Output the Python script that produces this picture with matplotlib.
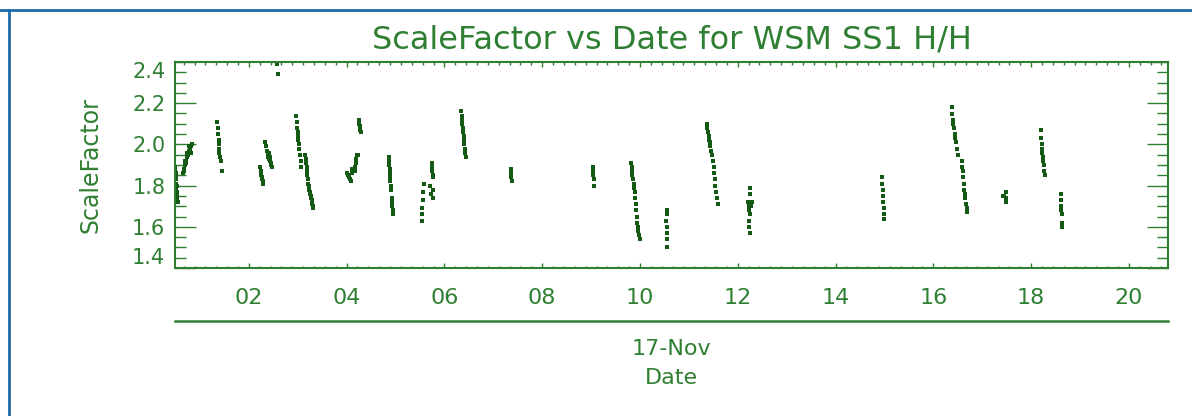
import matplotlib.pyplot as plt
from matplotlib.lines import Line2D
from matplotlib.ticker import MultipleLocator

GREEN = "#2f7f32"
DOT = "#145a14"
BLUE = "#1d6aa8"

# one list per satellite pass: hour of 17-Nov and scale factor
pass_hours = [
    [0.50, 0.50, 0.51, 0.51, 0.52, 0.52, 0.53, 0.53, 0.54, 0.55, 0.51, 0.53],
    [0.66, 0.67, 0.68, 0.70, 0.71, 0.72, 0.74, 0.75, 0.76, 0.78, 0.80, 0.82, 0.84, 0.69, 0.73, 0.77, 0.81],
    [1.35, 1.36, 1.37, 1.38, 1.38, 1.39, 1.40, 1.42, 1.43, 1.45],
    [2.23, 2.24, 2.25, 2.26, 2.27, 2.28, 2.29],
    [2.33, 2.35, 2.37, 2.39, 2.40, 2.42, 2.43, 2.45, 2.46, 2.47, 2.41, 2.44],
    [2.58, 2.60],
    [2.97, 2.98, 2.99, 3.00, 3.00, 3.01, 3.02, 3.02, 3.04, 3.06, 3.07],
    [3.15, 3.16, 3.17, 3.18, 3.19, 3.20, 3.21, 3.22, 3.23, 3.24, 3.25, 3.26, 3.27, 3.28, 3.29, 3.30, 3.31, 3.31],
    [4.00, 4.02, 4.04, 4.06, 4.08, 4.10, 4.12, 4.13],
    [4.17, 4.18, 4.19, 4.20, 4.21, 4.23],
    [4.25, 4.26, 4.27, 4.28, 4.30],
    [4.86, 4.87, 4.87, 4.88, 4.88, 4.89, 4.89, 4.90, 4.91, 4.92, 4.92, 4.93, 4.94, 4.95],
    [5.58, 5.57, 5.56, 5.55, 5.55, 5.54],
    [5.74, 5.74, 5.75, 5.76, 5.76, 5.70, 5.72, 5.76, 5.77],
    [6.34, 6.35, 6.36, 6.37, 6.38, 6.39, 6.40, 6.41, 6.41, 6.42, 6.43, 6.44],
    [7.37, 7.37, 7.37, 7.38],
    [9.03, 9.04, 9.04, 9.05, 9.06],
    [9.82, 9.83, 9.83, 9.84, 9.85, 9.87, 9.88, 9.89, 9.90, 9.91, 9.92, 9.93, 9.94, 9.96, 9.97, 9.98, 10.00],
    [10.55, 10.55, 10.54, 10.55, 10.55, 10.56, 10.56],
    [11.37, 11.38, 11.40, 11.41, 11.42, 11.43, 11.44, 11.46, 11.48],
    [11.50, 11.51, 11.52, 11.53, 11.54, 11.56, 11.58, 11.60],
    [12.25, 12.26, 12.20, 12.22, 12.24, 12.26, 12.28, 12.30, 12.22, 12.24, 12.26],
    [14.96, 14.96, 14.97, 14.97, 14.98, 14.99, 14.99, 15.00],
    [16.38, 16.39, 16.40, 16.41, 16.43, 16.44, 16.45, 16.46, 16.48, 16.50],
    [16.58, 16.59, 16.60, 16.61, 16.62, 16.63, 16.64, 16.65, 16.66, 16.68, 16.69],
    [17.42, 17.45, 17.48, 17.48, 17.49],
    [18.20, 18.20, 18.22, 18.22, 18.23, 18.24, 18.25, 18.26, 18.27, 18.28],
    [18.61, 18.61, 18.62, 18.62, 18.63, 18.64, 18.64],
]
pass_values = [
    [1.89, 1.87, 1.85, 1.83, 1.81, 1.79, 1.77, 1.75, 1.73, 1.72, 1.86, 1.80],
    [1.86, 1.87, 1.88, 1.90, 1.91, 1.92, 1.94, 1.95, 1.95, 1.97, 1.98, 1.99, 2.00, 1.92, 1.96, 1.99, 1.96],
    [2.11, 2.08, 2.05, 2.02, 2.00, 1.98, 1.96, 1.94, 1.92, 1.87],
    [1.89, 1.87, 1.85, 1.84, 1.83, 1.82, 1.81],
    [2.01, 1.99, 1.97, 1.95, 1.94, 1.93, 1.92, 1.91, 1.90, 1.89, 1.96, 1.94],
    [2.39, 2.34],
    [2.14, 2.11, 2.08, 2.06, 2.04, 2.02, 2.00, 1.98, 1.95, 1.92, 1.89],
    [1.95, 1.93, 1.91, 1.89, 1.87, 1.85, 1.83, 1.81, 1.80, 1.78, 1.77, 1.76, 1.75, 1.74, 1.73, 1.71, 1.69, 1.70],
    [1.86, 1.85, 1.84, 1.83, 1.82, 1.86, 1.88, 1.87],
    [1.87, 1.89, 1.91, 1.93, 1.95, 1.95],
    [2.12, 2.10, 2.09, 2.07, 2.06],
    [1.94, 1.92, 1.90, 1.88, 1.86, 1.84, 1.82, 1.80, 1.78, 1.74, 1.72, 1.70, 1.68, 1.66],
    [1.81, 1.77, 1.73, 1.69, 1.66, 1.63],
    [1.91, 1.89, 1.87, 1.85, 1.84, 1.80, 1.76, 1.78, 1.74],
    [2.16, 2.14, 2.12, 2.10, 2.08, 2.06, 2.04, 2.02, 2.00, 1.98, 1.96, 1.94],
    [1.88, 1.86, 1.84, 1.82],
    [1.89, 1.87, 1.85, 1.83, 1.80],
    [1.91, 1.89, 1.87, 1.85, 1.83, 1.81, 1.79, 1.77, 1.74, 1.71, 1.68, 1.65, 1.62, 1.60, 1.58, 1.56, 1.54],
    [1.68, 1.66, 1.63, 1.60, 1.57, 1.54, 1.50],
    [2.10, 2.08, 2.06, 2.04, 2.02, 2.01, 1.99, 1.97, 1.95],
    [1.92, 1.89, 1.86, 1.83, 1.80, 1.77, 1.74, 1.71],
    [1.79, 1.76, 1.72, 1.70, 1.68, 1.66, 1.70, 1.72, 1.63, 1.60, 1.57],
    [1.84, 1.81, 1.78, 1.75, 1.72, 1.69, 1.66, 1.64],
    [2.18, 2.15, 2.12, 2.10, 2.08, 2.05, 2.03, 2.01, 1.98, 1.95],
    [1.92, 1.89, 1.87, 1.84, 1.81, 1.78, 1.76, 1.74, 1.71, 1.69, 1.67],
    [1.75, 1.75, 1.77, 1.74, 1.72],
    [2.07, 2.03, 2.00, 1.98, 1.96, 1.94, 1.92, 1.90, 1.87, 1.85],
    [1.76, 1.73, 1.70, 1.68, 1.66, 1.62, 1.60],
]

hour_ticks = [2, 4, 6, 8, 10, 12, 14, 16, 18, 20]
hour_labels = ["02", "04", "06", "08", "10", "12", "14", "16", "18", "20"]
value_ticks = [1.4, 1.6, 1.8, 2.0, 2.2, 2.4]
day_label = "17-Nov"

fig = plt.figure(figsize=(11.92, 4.16), dpi=100)
left, width = 175 / 1192, 993 / 1192
ax = fig.add_axes([left, 1 - 268 / 416, width, 206 / 416])

for h, v in zip(pass_hours, pass_values):
    ax.plot(h, v, ls="none", marker="s", ms=2.4, mew=0, color=DOT)

ax.set_xlim(0.49, 20.8)
ax.set_ylim(1.4, 2.4)
ax.set_xticks(hour_ticks)
ax.set_xticklabels(hour_labels)
ax.xaxis.set_minor_locator(MultipleLocator(2 / 9))
ax.set_yticks(value_ticks)
ax.set_yticklabels([f"{t:.1f}" for t in value_ticks])
ax.yaxis.set_minor_locator(MultipleLocator(0.05))

for s in ax.spines.values():
    s.set_color(GREEN)
    s.set_linewidth(1.5)
ax.tick_params(which="both", direction="in", top=True, right=True, color=GREEN, width=1)
ax.tick_params(axis="x", which="major", length=3.5, pad=14.5, labelsize=16, labelcolor=GREEN)
ax.tick_params(axis="x", which="minor", length=1.8)
ax.tick_params(axis="y", which="major", length=15, pad=7, labelsize=15, labelcolor=GREEN)
ax.tick_params(axis="y", which="minor", length=8)
ylabels = ax.get_yticklabels()
ylabels[0].set_va("bottom")
ylabels[-1].set_va("top")

ax.set_ylabel("ScaleFactor", fontsize=17, color=GREEN, labelpad=21)
ax.set_title("ScaleFactor vs Date for WSM SS1 H/H", fontsize=23, color=GREEN, pad=10)

# second level of the date axis
date_ax = fig.add_axes([left, 1 - 321 / 416, width, 0.0005])
date_ax.set_xlim(ax.get_xlim())
for name, s in date_ax.spines.items():
    s.set_visible(name == "top")
date_ax.spines["top"].set_color(GREEN)
date_ax.spines["top"].set_linewidth(1.8)
date_ax.set_xticks([])
date_ax.set_yticks([])
date_ax.patch.set_visible(False)
date_ax.set_xlabel(day_label + "\nDate", fontsize=16, color=GREEN, labelpad=13, linespacing=1.55)

fig.add_artist(Line2D([0, 1], [1 - 10 / 416] * 2, transform=fig.transFigure, color=BLUE, lw=2))
fig.add_artist(Line2D([9 / 1192] * 2, [0, 1 - 10 / 416], transform=fig.transFigure, color=BLUE, lw=2))

fig.savefig("out.png", dpi=100)
